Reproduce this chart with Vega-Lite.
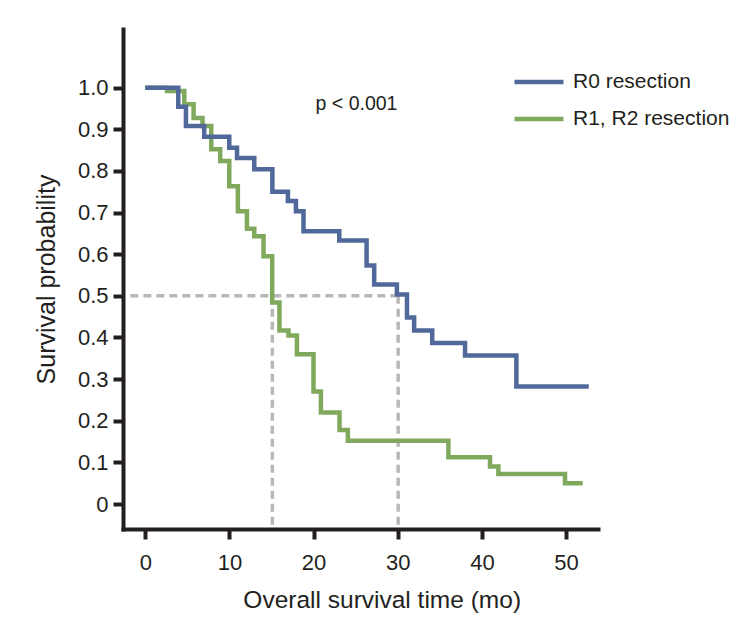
{
  "$schema": "https://vega.github.io/schema/vega-lite/v6.json",
  "width": 475,
  "height": 500,
  "autosize": {"type": "none"},
  "padding": {"left": 123, "top": 29, "right": 157, "bottom": 98},
  "background": "white",
  "config": {"view": {"stroke": null}, "font": "Liberation Sans"},
  "datasets": {
    "curves": [
      {"group": "R1, R2 resection", "t": 0, "s": 1.0},
      {"group": "R1, R2 resection", "t": 2.58, "s": 0.992},
      {"group": "R1, R2 resection", "t": 4.63, "s": 0.96},
      {"group": "R1, R2 resection", "t": 5.74, "s": 0.927},
      {"group": "R1, R2 resection", "t": 6.8, "s": 0.908},
      {"group": "R1, R2 resection", "t": 7.84, "s": 0.852},
      {"group": "R1, R2 resection", "t": 8.9, "s": 0.824},
      {"group": "R1, R2 resection", "t": 9.98, "s": 0.763},
      {"group": "R1, R2 resection", "t": 11.0, "s": 0.703},
      {"group": "R1, R2 resection", "t": 12.08, "s": 0.661},
      {"group": "R1, R2 resection", "t": 12.95, "s": 0.643},
      {"group": "R1, R2 resection", "t": 14.05, "s": 0.595},
      {"group": "R1, R2 resection", "t": 15.08, "s": 0.484},
      {"group": "R1, R2 resection", "t": 15.94, "s": 0.417},
      {"group": "R1, R2 resection", "t": 17.02, "s": 0.405},
      {"group": "R1, R2 resection", "t": 18.02, "s": 0.36},
      {"group": "R1, R2 resection", "t": 19.99, "s": 0.27},
      {"group": "R1, R2 resection", "t": 20.87, "s": 0.22},
      {"group": "R1, R2 resection", "t": 23.08, "s": 0.178},
      {"group": "R1, R2 resection", "t": 24.07, "s": 0.152},
      {"group": "R1, R2 resection", "t": 36.02, "s": 0.1125},
      {"group": "R1, R2 resection", "t": 40.97, "s": 0.09},
      {"group": "R1, R2 resection", "t": 41.96, "s": 0.072},
      {"group": "R1, R2 resection", "t": 49.88, "s": 0.05},
      {"group": "R1, R2 resection", "t": 51.98, "s": 0.05},
      {"group": "R0 resection", "t": 0, "s": 1.0},
      {"group": "R0 resection", "t": 3.92, "s": 0.954},
      {"group": "R0 resection", "t": 4.83, "s": 0.908},
      {"group": "R0 resection", "t": 7.0, "s": 0.882},
      {"group": "R0 resection", "t": 9.98, "s": 0.856},
      {"group": "R0 resection", "t": 10.9, "s": 0.831},
      {"group": "R0 resection", "t": 12.95, "s": 0.804},
      {"group": "R0 resection", "t": 15.1, "s": 0.75},
      {"group": "R0 resection", "t": 16.95, "s": 0.728},
      {"group": "R0 resection", "t": 17.9, "s": 0.703},
      {"group": "R0 resection", "t": 18.8, "s": 0.655},
      {"group": "R0 resection", "t": 23.05, "s": 0.633},
      {"group": "R0 resection", "t": 26.3, "s": 0.573},
      {"group": "R0 resection", "t": 27.2, "s": 0.527},
      {"group": "R0 resection", "t": 29.9, "s": 0.503},
      {"group": "R0 resection", "t": 31.1, "s": 0.448},
      {"group": "R0 resection", "t": 31.95, "s": 0.417},
      {"group": "R0 resection", "t": 34.1, "s": 0.387},
      {"group": "R0 resection", "t": 38.0, "s": 0.357},
      {"group": "R0 resection", "t": 44.1, "s": 0.282},
      {"group": "R0 resection", "t": 52.7, "s": 0.282}
    ],
    "guides": [
      {"t": -1.78, "t2": 30, "s": 0.5, "s2": 0.5},
      {"t": 15.1, "t2": 15.1, "s": 0.5, "s2": -0.055},
      {"t": 30.05, "t2": 30.05, "s": 0.5, "s2": -0.055}
    ],
    "notes": [
      {"t": 25.1, "s": 0.962, "label": "p < 0.001"}
    ]
  },
  "encoding": {
    "x": {
      "field": "t",
      "type": "quantitative",
      "scale": {"domain": [-2.65, 53.8], "nice": false, "zero": false},
      "axis": {
        "title": "Overall survival time (mo)",
        "values": [0, 10, 20, 30, 40, 50],
        "format": "d",
        "grid": false,
        "domainColor": "#231f20",
        "domainWidth": 4,
        "domainCap": "square",
        "tickColor": "#231f20",
        "tickWidth": 4,
        "tickSize": 10,
        "labelFont": "Liberation Sans",
        "labelFontSize": 22,
        "labelColor": "#231f20",
        "labelPadding": 13,
        "labelFlush": false,
        "titleFont": "Liberation Sans",
        "titleFontSize": 24.5,
        "titleFontWeight": "normal",
        "titleColor": "#231f20",
        "titleX": 258.7,
        "titleY": 78,
        "titleBaseline": "alphabetic",
        "titleAlign": "center",
        "titleAnchor": null
      }
    },
    "y": {
      "field": "s",
      "type": "quantitative",
      "scale": {"domain": [-0.06, 1.141], "nice": false, "zero": false},
      "axis": {
        "title": "Survival probability",
        "values": [0, 0.1, 0.2, 0.3, 0.4, 0.5, 0.6, 0.7, 0.8, 0.9, 1.0],
        "labelExpr": "datum.value == 0 ? '0' : format(datum.value, '.1f')",
        "grid": false,
        "domainColor": "#231f20",
        "domainWidth": 4,
        "domainCap": "square",
        "tickColor": "#231f20",
        "tickWidth": 4,
        "tickSize": 10,
        "labelFont": "Liberation Sans",
        "labelFontSize": 22,
        "labelColor": "#231f20",
        "labelPadding": 5,
        "labelFlush": false,
        "titleFont": "Liberation Sans",
        "titleFontSize": 25,
        "titleFontWeight": "normal",
        "titleColor": "#231f20",
        "titleX": -69,
        "titleY": 250,
        "titleBaseline": "alphabetic",
        "titleAlign": "center",
        "titleAnchor": null
      }
    }
  },
  "layer": [
    {
      "data": {"name": "guides"},
      "mark": {"type": "rule", "color": "#b8b8b8", "strokeWidth": 3.5, "strokeDash": [8, 5]},
      "encoding": {
        "x2": {"field": "t2"},
        "y2": {"field": "s2"}
      }
    },
    {
      "data": {"name": "curves"},
      "mark": {"type": "line", "interpolate": "step-after", "strokeWidth": 4.5, "strokeJoin": "miter", "strokeCap": "butt"},
      "encoding": {
        "color": {
          "field": "group",
          "type": "nominal",
          "scale": {"domain": ["R0 resection", "R1, R2 resection"], "range": ["#50699a", "#80a95d"]},
          "legend": {
            "orient": "none",
            "legendX": 389,
            "legendY": 26,
            "title": null,
            "padding": 0,
            "symbolType": "stroke",
            "symbolSize": 2401,
            "symbolStrokeWidth": 4.5,
            "labelFont": "Liberation Sans",
            "labelFontSize": 21,
            "labelLimit": 0,
            "labelColor": "#231f20",
            "labelOffset": 7,
            "rowPadding": -11
          }
        }
      }
    },
    {
      "data": {"name": "notes"},
      "mark": {"type": "text", "font": "Liberation Sans", "fontSize": 19.5, "color": "#231f20", "align": "center", "baseline": "middle"},
      "encoding": {
        "text": {"field": "label"}
      }
    }
  ]
}
